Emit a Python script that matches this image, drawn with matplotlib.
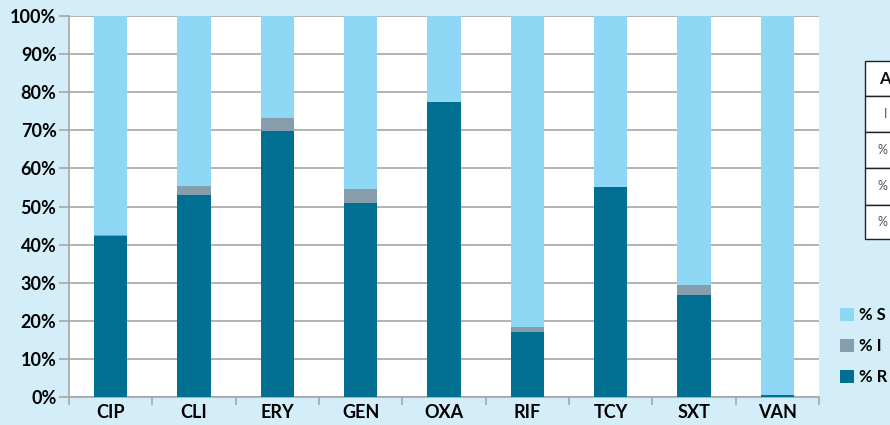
import numpy as np
import matplotlib
matplotlib.use("Agg")
import matplotlib.pyplot as plt
from matplotlib.patches import Rectangle
from matplotlib.ticker import FixedLocator, PercentFormatter

# --- Data (percent of isolates) ---
antibiotics = ["CIP", "CLI", "ERY", "GEN", "OXA", "RIF", "TCY", "SXT", "VAN"]
pct_r = [42.3, 53.1, 69.9, 50.9, 77.4, 17.1, 55.0, 26.9, 0.6]
pct_i = [0.3, 2.3, 3.4, 3.8, 0.0, 1.3, 0.0, 2.6, 0.0]
pct_s = [100 - r - i for r, i in zip(pct_r, pct_i)]
legend_labels = ["% S", "% I", "% R"]
# only the first glyph of each row of the side table is visible in the source
table_rows = ["A", "I", "%", "%", "%"]
table_text_x = [879, 884, 877, 878, 877]

# --- Style ---
BG = "#d3eef9"
C_S = "#8ed8f6"
C_I = "#869dab"
C_R = "#006f92"
GRID = "#a6a6a6"
plt.rcParams["font.family"] = ["Lato", "DejaVu Sans"]
plt.rcParams["font.weight"] = "bold"

W, H = 890, 425
fig = plt.figure(figsize=(W / 100, H / 100), dpi=100, facecolor=BG)
ax = fig.add_axes([69 / W, 1 - 397 / H, (819 - 69) / W, (397 - 16) / H])
ax.set_facecolor("white")

x = np.arange(len(antibiotics))
width = 0.4
r = np.array(pct_r)
i = np.array(pct_i)
s = np.array(pct_s)
b_r = ax.bar(x, r, width, color=C_R, zorder=3)
b_i = ax.bar(x, i, width, bottom=r, color=C_I, zorder=3)
b_s = ax.bar(x, s, width, bottom=r + i, color=C_S, zorder=3)

ax.set_xlim(-0.5, len(antibiotics) - 0.5)
ax.set_ylim(0, 100)
ax.yaxis.set_major_locator(FixedLocator(np.arange(0, 101, 10)))
ax.yaxis.set_major_formatter(PercentFormatter(decimals=0))
ax.grid(axis="y", color=GRID, linewidth=1.2, zorder=0)

ax.set_xticks(x)
ax.set_xticklabels(antibiotics)
ax.set_xticks(np.arange(-0.5, len(antibiotics)), minor=True)
ax.tick_params(axis="x", which="major", length=0, pad=5, labelsize=13)
ax.tick_params(axis="x", which="minor", length=6, color=GRID, width=1.2)
ax.tick_params(axis="y", length=7, color=GRID, width=1.2, pad=2, labelsize=13)

for side in ["top", "right"]:
    ax.spines[side].set_visible(False)
for side in ["left", "bottom"]:
    ax.spines[side].set_color(GRID)
    ax.spines[side].set_linewidth(1.2)

# --- Legend (S on top) ---
leg = fig.legend([b_s, b_i, b_r], legend_labels, loc="upper left",
                 bbox_to_anchor=(840 / W, 1 - 307 / H), frameon=False,
                 borderpad=0, borderaxespad=0,
                 handlelength=0.85, handleheight=0.85, handletextpad=0.3,
                 labelspacing=0.9, prop={"size": 12, "weight": "bold"})

# --- Partial table at the right edge (cut off by the figure) ---
row_edges = [61, 96, 132, 168, 205, 239]
for k, label in enumerate(table_rows):
    y0, y1 = row_edges[k], row_edges[k + 1]
    fig.patches.append(Rectangle((865 / W, 1 - y1 / H), 120 / W, (y1 - y0) / H,
                                 transform=fig.transFigure, facecolor="white",
                                 edgecolor="#222222", linewidth=1.0))
    fig.text(table_text_x[k] / W, 1 - (y0 + y1) / 2 / H, label, ha="left",
             va="center", fontsize=12 if k == 0 else 9,
             fontweight="bold" if k == 0 else "normal",
             color="#111111" if k == 0 else "#555555")

fig.savefig("out.png", dpi=100, facecolor=BG)
